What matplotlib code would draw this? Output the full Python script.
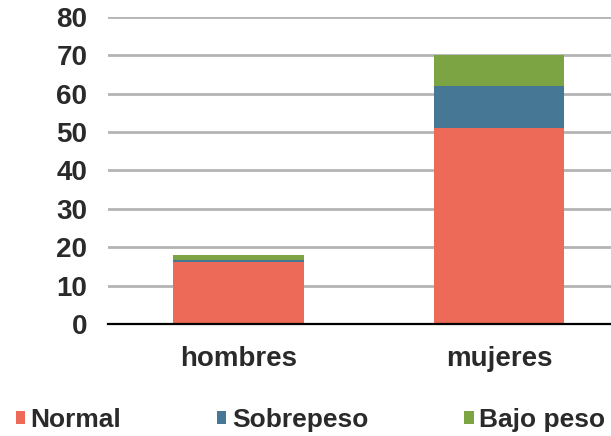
import matplotlib
matplotlib.use('Agg')
import matplotlib.pyplot as plt
import numpy as np

plt.rcParams['font.family'] = ['Liberation Sans', 'DejaVu Sans']

grupos = ['hombres', 'mujeres']
normal = [16.2, 51]
sobrepeso = [0.5, 11]
bajo_peso = [1.3, 8]

colores = ['#ee6a58', '#467896', '#7da443']
nombres = ['Normal', 'Sobrepeso', 'Bajo peso']

fig = plt.figure(figsize=(6.11, 4.36), dpi=100)
ax = fig.add_axes([0.177, 0.257, 0.823, 0.704])

x = np.arange(len(grupos))
base = np.zeros(len(grupos))
for serie, color, nombre in zip([normal, sobrepeso, bajo_peso], colores, nombres):
    ax.bar(x, serie, width=0.5, bottom=base, color=color, label=nombre, zorder=3)
    base += np.array(serie)

ax.set_ylim(0, 80)
ax.set_yticks(range(0, 81, 10))
ax.set_xlim(-0.5, 1.43)
ax.set_xticks(x)
ax.set_xticklabels(grupos)
ax.yaxis.grid(True, color='#b4b4b4', linewidth=2.0, zorder=0)
ax.set_axisbelow(True)

for lado in ['left', 'right', 'top']:
    ax.spines[lado].set_visible(False)
ax.spines['bottom'].set_color('black')
ax.spines['bottom'].set_linewidth(1.6)
ax.spines['bottom'].set_zorder(4)

ax.tick_params(axis='y', length=0, pad=15, labelsize=20, labelcolor='#2a2a2a')
ax.tick_params(axis='x', length=0, pad=16, labelsize=20, labelcolor='#2a2a2a')
for t in ax.get_xticklabels() + ax.get_yticklabels():
    t.set_fontweight('bold')

leg = fig.legend(loc='lower center', bbox_to_anchor=(0.508, -0.045), ncol=3, frameon=False,
                 fontsize=19, handlelength=0.35, handleheight=0.35, handletextpad=0.2,
                 columnspacing=3.65, labelcolor='#2a2a2a')
for t in leg.get_texts():
    t.set_fontweight('bold')

fig.savefig('out.png', dpi=100)
